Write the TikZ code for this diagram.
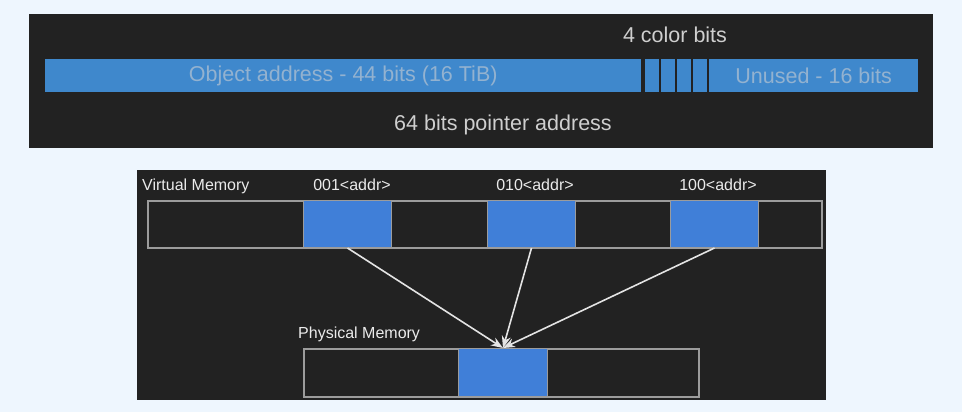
\documentclass[tikz,border=0pt]{standalone}
\usepackage{fontspec}
\setmainfont{Liberation Sans}
\usetikzlibrary{arrows.meta}
\definecolor{bgblue}{HTML}{EEF6FE}
\definecolor{panel}{HTML}{222222}
\definecolor{barblue}{HTML}{3F88CC}
\definecolor{bartext}{HTML}{93B2D0}
\definecolor{memblue}{HTML}{407FD8}
\definecolor{edgegray}{HTML}{9C9C9C}
\definecolor{labelgray}{HTML}{CFCFCF}
\definecolor{arrowgray}{HTML}{E4E4E4}

\begin{document}
\begin{tikzpicture}[x=1pt,y=-1pt,
  barcell/.style={fill=barblue, inner sep=0pt, anchor=north west,
    minimum height=33pt, text=bartext, font=\fontsize{21.5}{26}\selectfont},
  toplabel/.style={text=labelgray, inner sep=0pt, anchor=base,
    font=\fontsize{21.5}{26}\selectfont},
  memrow/.style={draw=edgegray, line width=1.5pt, inner sep=0pt,
    anchor=north west, minimum height=47pt},
  memblock/.style={fill=memblue, draw=edgegray, line width=1pt, inner sep=0pt,
    anchor=north west, minimum width=88pt, minimum height=47pt},
  memlabel/.style={text=white!92!black, inner sep=0pt,
    font=\fontsize{16}{19}\selectfont},
  arrowline/.style={draw=arrowgray, line width=1.6pt,
    -{Stealth[length=12pt,width=9pt]}}]
\fill[bgblue] (0,0) rectangle (962,412);
\useasboundingbox (0,0) rectangle (962,412);
\fill[panel] (29,14) rectangle (933,148);
\fill[panel] (137,170) rectangle (826,400);
% pointer layout
\node[toplabel] (colorlbl) at (675,43) {4 color bits};
\node[barcell, minimum width=596pt] (objaddr) at (45,59) {Object address - 44 bits (16 TiB)};
\foreach \i in {0,...,3}
  \node[barcell, minimum width=14pt] (bit\i) at ({645+16*\i},59) {};
\node[barcell, minimum width=209pt] (unused) at (709,59) {Unused - 16 bits};
\node[toplabel] (ptrlbl) at (503,130) {64 bits pointer address};
% virtual memory
\node[memlabel, anchor=base west] (vlbl) at (142,190) {Virtual Memory};
\node[memrow, minimum width=674pt] (vmem) at (147,200) {};
\node[memblock] (v1) at (303,200) {};
\node[memblock] (v2) at (487,200) {};
\node[memblock] (v3) at (670,200) {};
\node[memlabel, anchor=base] (a1) at (352,190) {001<addr>};
\node[memlabel, anchor=base] (a2) at (535,190) {010<addr>};
\node[memlabel, anchor=base] (a3) at (718,190) {100<addr>};
% physical memory
\node[memlabel, anchor=base west] (plbl) at (298,338) {Physical Memory};
\node[memrow, minimum width=395pt, minimum height=48pt] (pmem) at (303,348) {};
\node[memblock, minimum width=89pt, minimum height=48pt] (p1) at (458,348) {};
\draw[arrowline] (v1.south) -- (p1.north);
\draw[arrowline] (v2.south) -- (p1.north);
\draw[arrowline] (v3.south) -- (p1.north);
\end{tikzpicture}
\end{document}
